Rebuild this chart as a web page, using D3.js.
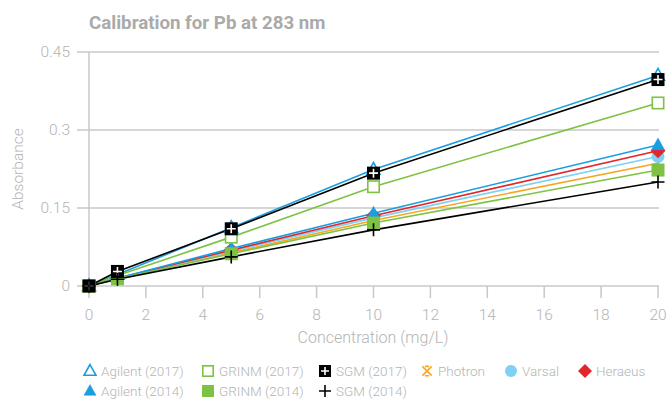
<!DOCTYPE html>
<html>
<head>
<meta charset="utf-8">
<script src="https://cdn.jsdelivr.net/npm/d3@7"></script>
<style>
  html, body { margin: 0; padding: 0; background: #fff; }
  svg { display: block; font-family: Roboto, "Noto Sans", sans-serif; }
</style>
</head>
<body>
<svg id="chart" width="668" height="400"></svg>
<script>
// ---- data ----
const concentrations = [0, 1, 5, 10, 20];
const xTicks = [0, 2, 4, 6, 8, 10, 12, 14, 16, 18, 20];
const yTicks = [0, 0.15, 0.3, 0.45];
const yTickLabels = ["0", "0.15", "0.3", "0.45"];

const agilent2017 = [0, 0.022, 0.112, 0.224, 0.405];
const agilent2014 = [0, 0.015, 0.072, 0.140, 0.271];
const grinm2017   = [0, 0.020, 0.094, 0.191, 0.352];
const grinm2014   = [0, 0.014, 0.062, 0.121, 0.223];
const sgm2017     = [0, 0.028, 0.110, 0.217, 0.397];
const sgm2014     = [0, 0.013, 0.056, 0.108, 0.200];
const photron     = [0, 0.014, 0.064, 0.126, 0.236];
const varsal      = [0, 0.014, 0.067, 0.131, 0.249];
const heraeus     = [0, 0.015, 0.069, 0.135, 0.260];

const seriesNames = ["Agilent (2017)", "GRINM (2017)", "SGM (2017)", "Photron", "Varsal", "Heraeus",
                     "Agilent (2014)", "GRINM (2014)", "SGM (2014)"];
const seriesValues = [agilent2017, grinm2017, sgm2017, photron, varsal, heraeus,
                      agilent2014, grinm2014, sgm2014];
const seriesColors = ["#1a9ee2", "#7dc242", "#000000", "#f7a823", "#7fd0f5", "#e3262a",
                      "#1a9ee2", "#7dc242", "#000000"];
const seriesMarkers = ["triangleOpen", "squareOpen", "squarePlus", "asterisk", "circle", "diamond",
                       "triangle", "square", "plus"];
// draw order (index into series arrays)
const drawOrder = [3, 4, 5, 6, 0, 1, 7, 2, 8];

// ---- layout ----
const x = d3.scaleLinear().domain([0, 20]).range([89, 658]);
const y = d3.scaleLinear().domain([0, 0.45]).range([286, 52]);

const svg = d3.select("#chart");
const grey = "#c8c8c8";
const textGrey = "#b4b4b4";

// title
svg.append("text").attr("x", 89).attr("y", 29)
  .attr("font-size", 18.7).attr("font-weight", "bold").attr("fill", "#aaaaaa")
  .text("Calibration for Pb at 283 nm");

// gridlines
svg.append("g").selectAll("line").data(yTicks).join("line")
  .attr("x1", 77).attr("x2", 659)
  .attr("y1", d => y(d)).attr("y2", d => y(d))
  .attr("stroke", grey).attr("stroke-width", 1.5);

// y axis line
svg.append("line").attr("x1", x(0)).attr("x2", x(0))
  .attr("y1", y(0.45)).attr("y2", y(0) + 12)
  .attr("stroke", grey).attr("stroke-width", 1.5);

// y tick labels
svg.append("g").selectAll("text").data(yTicks).join("text")
  .attr("x", 70).attr("y", d => y(d) + 5)
  .attr("text-anchor", "end").attr("font-size", 15.5).attr("font-weight", 300)
  .attr("fill", textGrey)
  .text((d, i) => yTickLabels[i]);

// x ticks
svg.append("g").selectAll("line").data(xTicks.slice(1)).join("line")
  .attr("x1", d => x(d)).attr("x2", d => x(d))
  .attr("y1", y(0)).attr("y2", y(0) + 12)
  .attr("stroke", grey).attr("stroke-width", 1.5);

svg.append("g").selectAll("text").data(xTicks).join("text")
  .attr("x", d => x(d)).attr("y", 320)
  .attr("text-anchor", "middle").attr("font-size", 15.5).attr("font-weight", 300)
  .attr("fill", textGrey)
  .text(d => d);

// axis titles
svg.append("text").attr("x", 373).attr("y", 343)
  .attr("text-anchor", "middle").attr("font-size", 16).attr("font-weight", 300)
  .attr("fill", textGrey).text("Concentration (mg/L)");

svg.append("text").attr("transform", "translate(23,169) rotate(-90)")
  .attr("text-anchor", "middle").attr("font-size", 15.5).attr("font-weight", 300)
  .attr("fill", textGrey).text("Absorbance");

// marker drawing
function drawMarker(g, type, color, s) {
  const h = s / 2;
  if (type === "triangleOpen" || type === "triangle") {
    const th = s * 0.9;
    g.append("path")
      .attr("d", `M0,${-th * 0.6}L${h},${th * 0.4}L${-h},${th * 0.4}Z`)
      .attr("fill", type === "triangle" ? color : "#fff")
      .attr("stroke", color).attr("stroke-width", type === "triangle" ? 0.5 : 1.6);
  } else if (type === "squareOpen" || type === "square") {
    if (type === "square") {
      g.append("rect").attr("x", -h).attr("y", -h).attr("width", s).attr("height", s).attr("fill", color);
    } else {
      const hh = h - 0.8;
      g.append("rect").attr("x", -hh).attr("y", -hh).attr("width", 2 * hh).attr("height", 2 * hh)
        .attr("fill", "#fff").attr("stroke", color).attr("stroke-width", 1.6);
    }
  } else if (type === "squarePlus") {
    g.append("rect").attr("x", -h).attr("y", -h).attr("width", s).attr("height", s).attr("fill", color);
    g.append("path").attr("d", `M${-h + 2},0H${h - 2}M0,${-h + 2}V${h - 2}`)
      .attr("stroke", "#fff").attr("stroke-width", 1.6);
  } else if (type === "plus") {
    g.append("path").attr("d", `M${-h},0H${h}M0,${-h}V${h}`)
      .attr("stroke", color).attr("stroke-width", 1.6);
  } else if (type === "asterisk") {
    const a = h * 0.85, c = a * 0.45;
    g.append("path").attr("d", `M${-a},${-a}L${a},${a}M${a},${-a}L${-a},${a}M${-c},${-a}H${c}M${-c},${a}H${c}`)
      .attr("stroke", color).attr("stroke-width", 1.6).attr("fill", "none");
  } else if (type === "circle") {
    g.append("circle").attr("r", h).attr("fill", color);
  } else if (type === "diamond") {
    g.append("path").attr("d", `M0,${-h - 1}L${h + 1},0L0,${h + 1}L${-h - 1},0Z`).attr("fill", color);
  }
}

// series
const line = d3.line().x((d, i) => x(concentrations[i])).y(d => y(d));
const plot = svg.append("g");
drawOrder.forEach(k => {
  plot.append("path").datum(seriesValues[k]).attr("d", line)
    .attr("fill", "none").attr("stroke", seriesColors[k]).attr("stroke-width", 1.6);
});
drawOrder.forEach(k => {
  seriesValues[k].forEach((v, i) => {
    const mg = plot.append("g").attr("transform", `translate(${x(concentrations[i])},${y(v)})`);
    drawMarker(mg, seriesMarkers[k], seriesColors[k], 13);
  });
});

// legend
const legendX = [90, 208, 325, 427, 511, 585, 90, 208, 325];
const legendY = [371, 371, 371, 371, 371, 371, 391, 391, 391];
seriesNames.forEach((name, k) => {
  const g = svg.append("g").attr("transform", `translate(${legendX[k]},${legendY[k]})`);
  drawMarker(g, seriesMarkers[k], seriesColors[k], k === 3 ? 11 : 12);
  g.append("text").attr("x", 11).attr("y", 5)
    .attr("font-size", 13.5).attr("font-weight", 300).attr("fill", textGrey).text(name);
});
</script>
</body>
</html>
